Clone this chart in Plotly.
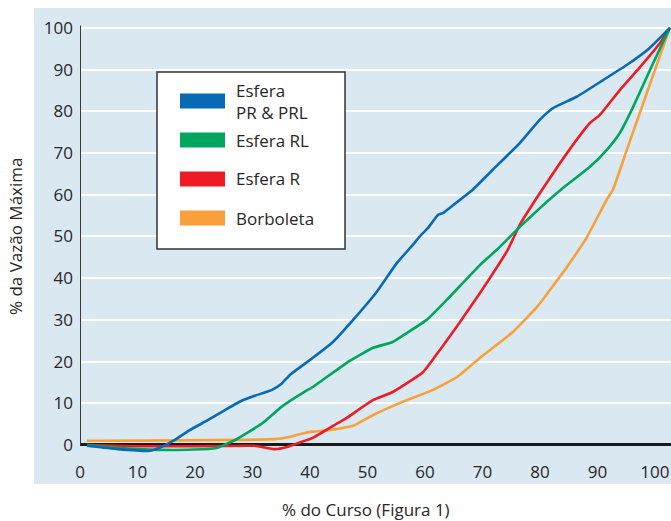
import plotly.graph_objects as go

# % do curso vs % da vazão máxima
blue_x = [1.2, 6.6, 12.2, 14.3, 16.5, 19, 22.3, 25, 28.1, 30.4, 33.4, 35, 36.5, 40.5, 44,
          47.5, 51.6, 55.1, 57.9, 59.1, 60.5, 62.3, 63.1, 64.9, 68.3, 71.8, 76.5, 80,
          82.3, 86.4, 91, 95.1, 99.1, 102.6]
blue_y = [-0.2, -1, -1.4, -0.4, 1.2, 3.5, 6, 8.2, 10.6, 11.8, 13.2, 14.6, 16.8, 20.9, 24.7,
          30, 36.7, 43.6, 48, 50, 52, 55.2, 55.6, 57.5, 61.2, 66, 72.4, 78,
          80.8, 83.5, 87.5, 91.1, 95.2, 100]

green_x = [1.2, 7.8, 16, 23.5, 27, 31.7, 35.1, 39.1, 40.5, 46.4, 51, 54.4, 56.9, 60.3,
           63.8, 69.6, 72.5, 76.5, 80, 84, 88.7, 91.6, 93.9, 96.2, 99.7, 102.6]
green_y = [0, -0.8, -1.2, -0.8, 1.2, 5.2, 9.2, 12.8, 13.9, 19.7, 23.3, 24.7, 26.9, 30,
           34.8, 43.2, 46.8, 52.3, 56.8, 61.6, 66.7, 70.7, 74.8, 81, 91.6, 100]

red_x = [1.2, 10, 20, 30.4, 33.9, 36.2, 39.1, 40.5, 44.9, 46.4, 51, 54.4, 59.7, 62.6,
         66.1, 69.6, 74.4, 76.5, 80, 83.5, 87, 88.7, 90.4, 93.9, 97.4, 100.9, 102.6]
red_y = [0, -0.3, -0.3, -0.2, -1, -0.4, 1, 1.7, 5.3, 6.5, 10.8, 12.7, 17.5, 22.8,
         29.5, 36.5, 46.8, 52.8, 60.4, 67.6, 74.3, 77.2, 79.1, 85.1, 90.6, 96.4, 100]

orange_x = [1.2, 33.9, 36, 39.1, 40.5, 43.5, 47.5, 51, 55.7, 61.4, 65.6, 69.6, 75.3,
            79.5, 84.7, 88.2, 91.6, 92.7, 95.1, 98.6, 102.6]
orange_y = [1.0, 1.4, 1.8, 2.9, 3.2, 3.6, 4.6, 7.2, 10.1, 13.2, 16.3, 20.9, 27.1,
            33.1, 42.7, 49.9, 58.8, 61.2, 70.7, 84.4, 100]

names = ["Esfera<br>PR & PRL", "Esfera RL", "Esfera R", "Borboleta"]
x_ticks = list(range(0, 101, 10))
y_ticks = list(range(0, 101, 10))

colours = ["#0a69b4", "#00a65d", "#ed1c24", "#f8a13b"]
series = [(blue_x, blue_y), (green_x, green_y), (red_x, red_y), (orange_x, orange_y)]

FONT = "Open Sans"
TEXT = "#2a2627"
PANEL = "#d9e8f1"

# plot area in pixels
W, H = 671, 521
L, R, T, B = 80, 0, 20, 66


def px(x):
    return (x - L) / (W - L - R)


def py(y):
    return (H - B - y) / (H - T - B)


fig = go.Figure()

# draw in reverse so blue ends up on top
for (xs, ys), colour, name in reversed(list(zip(series, colours, names))):
    fig.add_trace(go.Scatter(x=xs, y=ys, mode="lines", name=name,
                             line=dict(color=colour, width=2.6, shape="spline", smoothing=0.4),
                             showlegend=False))

shapes = [
    # light blue panel
    dict(type="rect", xref="paper", yref="paper", x0=px(34), x1=px(671), y0=py(484), y1=py(8),
         fillcolor=PANEL, line_width=0, layer="below"),
    # y axis line
    dict(type="line", xref="x", yref="y", x0=0, x1=0, y0=0, y1=100.6,
         line=dict(color="#3a3a3a", width=2)),
    # hand made legend box
    dict(type="rect", xref="paper", yref="paper", x0=px(157), x1=px(345), y0=py(249), y1=py(72),
         fillcolor="white", line=dict(color="#333333", width=1.5)),
]

annotations = []
legend_rows = [101, 140, 179, 218]
for name, colour, row in zip(names, colours, legend_rows):
    shapes.append(dict(type="rect", xref="paper", yref="paper",
                       x0=px(180), x1=px(225), y0=py(row + 7.5), y1=py(row - 7.5),
                       fillcolor=colour, line_width=0))
    annotations.append(dict(text=name, xref="paper", yref="paper", x=px(234), y=py(row),
                            xanchor="left", yanchor="middle", align="left", showarrow=False,
                            font=dict(family=FONT, size=17, color=TEXT)))

annotations += [
    dict(text="% do Curso (Figura 1)", xref="paper", yref="paper", x=px(366), y=py(509),
         xanchor="center", yanchor="middle", showarrow=False,
         font=dict(family=FONT, size=17, color=TEXT)),
    dict(text="% da Vazão Máxima", xref="paper", yref="paper", x=px(15), y=py(237),
         xanchor="center", yanchor="middle", showarrow=False, textangle=-90,
         font=dict(family=FONT, size=17, color=TEXT)),
]

fig.update_layout(
    width=W, height=H,
    margin=dict(l=L, r=R, t=T, b=B),
    paper_bgcolor="white",
    plot_bgcolor=PANEL,
    shapes=shapes,
    annotations=annotations,
    showlegend=False,
    font=dict(family=FONT, size=17, color=TEXT),
)

fig.update_xaxes(range=[0, 102.8], tickvals=x_ticks, showgrid=False, zeroline=False,
                 showline=False, ticks="", ticklabelstandoff=5)
fig.update_yaxes(range=[-2.4, 101.9], tickvals=y_ticks, showgrid=True, gridcolor="white",
                 gridwidth=2.2, zeroline=True, zerolinecolor="#1a1a1a", zerolinewidth=3,
                 showline=False, ticks="", ticklabelstandoff=6)

# the page body has a default 8px margin, drop it so the figure sits at 0,0
fig.write_html("out.html", config={"displayModeBar": False},
               post_script="document.body.style.margin='0';")
